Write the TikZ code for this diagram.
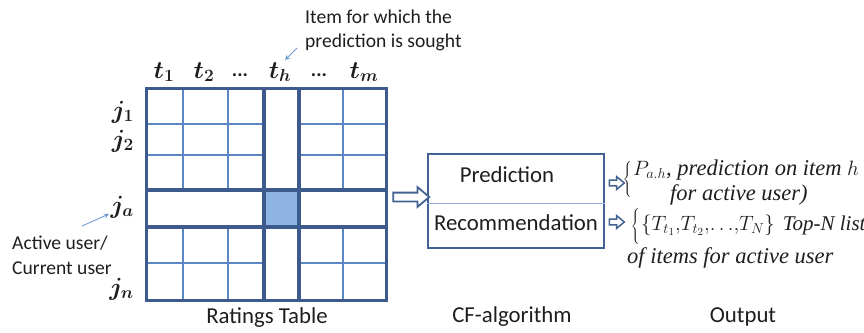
\documentclass[tikz,border=0pt]{standalone}
\usepackage{fontspec}
\setmainfont{Carlito}
\newfontfamily\outfont{Liberation Serif}
\usetikzlibrary{shapes.arrows,arrows.meta,calc}

\definecolor{gridthick}{RGB}{60,90,140}
\definecolor{gridthin}{RGB}{92,135,197}
\definecolor{cellfill}{RGB}{142,180,227}
\definecolor{boxline}{RGB}{66,98,145}
\definecolor{divline}{RGB}{143,176,218}
\definecolor{notearrow}{RGB}{111,155,209}
\definecolor{ink}{RGB}{30,30,30}

\tikzset{
  lbl/.style={inner sep=0pt, text=ink, font=\fontsize{22.8}{27}\selectfont},
  notelbl/.style={inner sep=0pt, text=ink, font=\fontsize{19.6}{23}\selectfont},
  mlbl/.style={inner sep=0pt, text=ink, font=\fontsize{25}{28}\selectfont\boldmath},
  outtxt/.style={inner sep=0pt, text=ink, font=\outfont\itshape\fontsize{22.5}{26}\selectfont},
  thinline/.style={draw=gridthin, line width=1.4pt},
  thickline/.style={draw=gridthick, line width=3.6pt},
  hollowarrow/.style={single arrow, draw=boxline, fill=white, line width=1.8pt,
    inner sep=0pt, shape border rotate=0},
  notearr/.style={draw=notearrow, line width=0.9pt, -{Stealth[length=5pt,width=5pt,open]}},
}

\begin{document}
\begin{tikzpicture}[x=1pt, y=-1pt]
\useasboundingbox (0,0) rectangle (864,332);

% ratings table frame (node spans the grid)
\node[minimum width=239pt, minimum height=211pt, inner sep=0pt] (table) at (266.5,194.5) {};

% selected cell
\fill[cellfill] (264,190) rectangle (299,227);

% thin grid lines in the four corner blocks
\foreach \x in {183,228,343} {
  \draw[thinline] (\x,89) -- (\x,190);
  \draw[thinline] (\x,227) -- (\x,300);
}
\foreach \y in {124,155} {
  \draw[thinline] (147,\y) -- (264,\y);
  \draw[thinline] (299,\y) -- (386,\y);
}
\draw[thinline] (147,263) -- (264,263);
\draw[thinline] (299,263) -- (386,263);

% thick lines framing the active row and target column
\draw[thickline] (264,89) -- (264,300);
\draw[thickline] (299,89) -- (299,300);
\draw[thickline] (147,190) -- (386,190);
\draw[thickline] (147,227) -- (386,227);

% outer border
\draw[draw=gridthick, line width=2.8pt] (table.north west) rectangle (table.south east);

% column headers
\node[mlbl] (t1) at (164,72) {$t_1$};
\node[mlbl] (t2) at (204,72) {$t_2$};
\node[notelbl, font=\fontsize{20}{24}\selectfont\bfseries] (tdots1) at (240,75) {...};
\node[mlbl] (th) at (280,72) {$t_h$};
\node[notelbl, font=\fontsize{20}{24}\selectfont\bfseries] (tdots2) at (319,75) {...};
\node[mlbl] (tm) at (364,72) {$t_m$};

% row headers
\node[mlbl, anchor=east] (j1) at (134,112) {$j_1$};
\node[mlbl, anchor=east] (j2) at (134,141) {$j_2$};
\node[mlbl, anchor=east] (ja) at (134,207) {$j_a$};
\node[mlbl, anchor=east] (jn) at (134,289) {$j_n$};

% annotation for the target item
\node[notelbl, anchor=west] (note1) at (305,17) {Item for which the};
\node[notelbl, anchor=west] (note2) at (305,42) {prediction is sought};
\coordinate (noteA) at (297,48);
\coordinate (noteB) at (285,60);
\draw[notearr] (noteA) -- (noteB);

% annotation for the active user
\node[notelbl, anchor=west] (act1) at (12,243) {Active user/};
\node[notelbl, anchor=west] (act2) at (12,268) {Current user};
\coordinate (actA) at (82,226);
\coordinate (actB) at (109,214);
\draw[notearr] (actA) -- (actB);

% CF-algorithm box
\node[draw=boxline, line width=1.8pt, minimum width=176pt, minimum height=94pt, inner sep=0pt] (cf) at (516,201) {};
\draw[draw=divline, line width=1pt] (cf.west |- 0,203) -- (cf.east |- 0,203);
\node[lbl] (pred) at (507,175) {Prediction};
\node[lbl] (rec) at (516,223) {Recommendation};

% hollow arrow: table -> CF box
\path (table.east) ++(6,2.5) coordinate (bigA);
\path (cf.west) ++(-2,-4) coordinate (bigB);
\node[hollowarrow, minimum height=36pt, minimum width=19pt, inner ysep=3.5pt,
  single arrow head extend=5.5pt, single arrow tip angle=80] (bigarrow) at ($(bigA)!0.5!(bigB)$) {};

% small hollow arrows: CF box -> outputs
\node[hollowarrow, line width=1.5pt, minimum height=15pt, minimum width=12pt, inner ysep=2.2pt,
  single arrow head extend=3.5pt, single arrow tip angle=80] (arrP) at (615,183) {};
\node[hollowarrow, line width=1.5pt, minimum height=15pt, minimum width=12pt, inner ysep=2.2pt,
  single arrow head extend=3.5pt, single arrow tip angle=80] (arrR) at (615,222) {};

% prediction output
\node[inner sep=0pt, text=ink] (braceP) at (628,180) {\fontsize{21}{24}\selectfont$\left\{\vrule height 15pt depth 13pt width 0pt\right.$};
\node[outtxt, anchor=west] (outP1) at (633,170) {$P_{a.h}$, prediction on item $h$};
\node[outtxt, anchor=west] (outP2) at (670,195) {for active user)};

% recommendation output
\node[inner sep=0pt, text=ink] (braceR) at (636,226) {\fontsize{21}{24}\selectfont$\left\{\vrule height 14pt depth 12pt width 0pt\right.$};
\node[outtxt, anchor=west, font=\outfont\itshape\fontsize{21}{25}\selectfont] (outR1) at (641,225)
  {$\{T_{t_1}{,}T_{t_2}{,}{\ldots}{,}T_N\}$\hspace{8pt}Top-N list};
\node[outtxt, anchor=west] (outR2) at (627,258) {of items for active user};

% captions
\node[lbl] (capT) at (267,318) {Ratings Table};
\node[lbl] (capC) at (512,317) {CF-algorithm};
\node[lbl] (capO) at (743,317) {Output};
\end{tikzpicture}
\end{document}
